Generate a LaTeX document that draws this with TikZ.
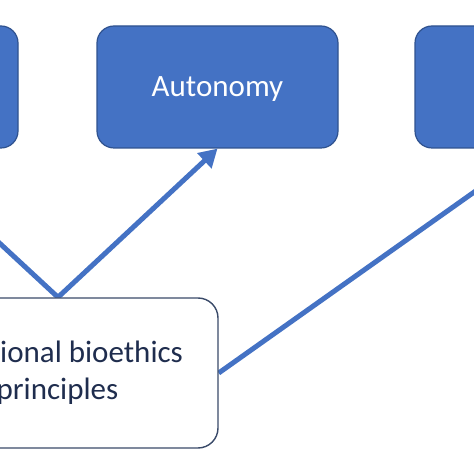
\documentclass[tikz,border=0pt]{standalone}
\usepackage{fontspec}
\setmainfont{Carlito}
\usetikzlibrary{arrows.meta,backgrounds}
\definecolor{officeblue}{HTML}{4472C4}
\definecolor{boxedge}{HTML}{2F528F}
\definecolor{navyedge}{HTML}{3A4A69}
\definecolor{navytext}{HTML}{1F2D4E}
\tikzset{
  principle/.style={draw=boxedge,line width=1.2pt,fill=officeblue,rounded corners=17pt,
    minimum width=241pt,minimum height=122pt,inner sep=0pt,text=white,
    font=\fontsize{31}{37}\selectfont,text height=20pt,text depth=0pt},
  rootbox/.style={draw=navyedge,line width=1.4pt,fill=white,rounded corners=20pt,
    minimum width=320pt,minimum height=150pt},
  roottext/.style={text=navytext,font=\fontsize{31}{37}\selectfont,align=left,inner sep=0pt},
  link/.style={draw=officeblue,line width=5pt},
  bigtip/.style={-{Triangle[length=18pt,width=20pt]}}
}
\begin{document}
\begin{tikzpicture}[x=1pt,y=1pt]
\useasboundingbox (0,0) rectangle (474,474);
% principle boxes
\node[principle] (leftp) at (-102.5,387) {};
\node[principle] (autonomy) at (217.5,387) {Autonomy};
\node[principle] (rightp) at (535.5,387) {};
% root box
\node[rootbox] (root) at (58,101) {};
\node[roottext,anchor=west] (rootlabel) at (-3.6,101) {\hspace*{3.6pt}ional bioethics\\principles};
% connectors
\begin{scope}[on background layer]
\draw[link,{Triangle[length=18pt,width=20pt]}-{Triangle[length=18pt,width=20pt]}] (leftp.south) -- (root.north) -- (autonomy.south);
\draw[link,bigtip] (root.east) -- (rightp.south);
\end{scope}
\end{tikzpicture}
\end{document}
